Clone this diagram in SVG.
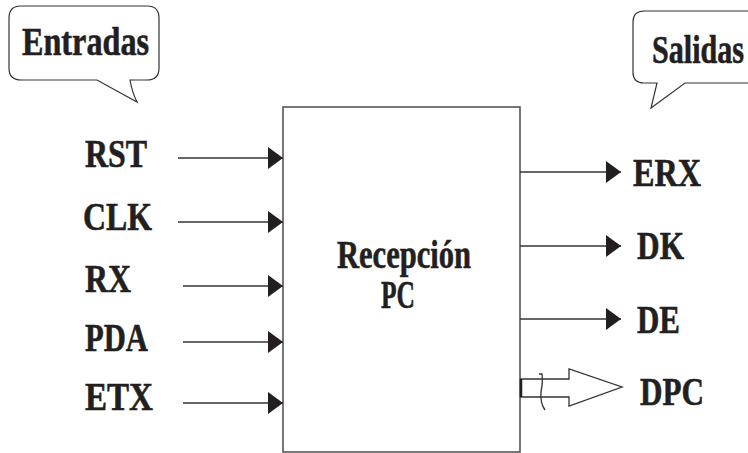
<svg xmlns="http://www.w3.org/2000/svg" width="748" height="453" viewBox="0 0 748 453">
<defs>
<style>
.lbl{font-weight:bold;font-size:40px;fill:#231f20;stroke:#231f20;stroke-width:0.6}
.bub{fill:#fff;stroke:#333;stroke-width:1.2}
.wire{stroke:#333;stroke-width:1.3;fill:none}
.box{fill:#fff;stroke:#555;stroke-width:1.6}
</style>
<marker id="ah" viewBox="0 0 15 22" refX="15" refY="11" markerWidth="15" markerHeight="22" markerUnits="userSpaceOnUse" orient="auto">
<path d="M0,0 L15,11 L0,22 Z" fill="#231f20"/>
</marker>
</defs>
<rect width="748" height="453" fill="#fff"/>

<g id="entradas" font-family="Liberation Serif, serif">
<path class="bub" d="M21,6 H147 Q159,6 159,18 V68 Q159,80 147,80 H130 Q132,92 137,102 L97,80 H21 Q9,80 9,68 V18 Q9,6 21,6 Z"/>
<text class="lbl" x="22" y="55" font-size="38" textLength="127" lengthAdjust="spacingAndGlyphs">Entradas</text>
</g>

<g id="salidas" font-family="Liberation Serif, serif">
<path class="bub" d="M760,11 H644 Q633,11 633,22 V72 Q633,83 644,83 H657 L651,108 L685,83 H760"/>
<text class="lbl" x="652" y="63" textLength="92" lengthAdjust="spacingAndGlyphs">Salidas</text>
</g>

<g id="recepcion" font-family="Liberation Serif, serif">
<rect class="box" x="283" y="107" width="237" height="345"/>
<text class="lbl" x="337" y="268" font-size="36" textLength="134" lengthAdjust="spacingAndGlyphs">Recepción</text>
<text class="lbl" x="381" y="308" font-size="36" textLength="34" lengthAdjust="spacingAndGlyphs">PC</text>
</g>

<g id="in-labels" font-family="Liberation Serif, serif">
<text class="lbl" x="85" y="167" textLength="62" lengthAdjust="spacingAndGlyphs">RST</text>
<text class="lbl" x="83" y="230" textLength="69" lengthAdjust="spacingAndGlyphs">CLK</text>
<text class="lbl" x="85" y="292" textLength="46" lengthAdjust="spacingAndGlyphs">RX</text>
<text class="lbl" x="85" y="351" textLength="63" lengthAdjust="spacingAndGlyphs">PDA</text>
<text class="lbl" x="85" y="410" textLength="68" lengthAdjust="spacingAndGlyphs">ETX</text>
</g>

<g id="out-labels" font-family="Liberation Serif, serif">
<text class="lbl" x="633" y="186" textLength="68" lengthAdjust="spacingAndGlyphs">ERX</text>
<text class="lbl" x="637" y="259" textLength="47" lengthAdjust="spacingAndGlyphs">DK</text>
<text class="lbl" x="637" y="333" textLength="43" lengthAdjust="spacingAndGlyphs">DE</text>
<text class="lbl" x="640" y="405" textLength="64" lengthAdjust="spacingAndGlyphs">DPC</text>
</g>

<g id="connectors">
<line class="wire" x1="178" y1="158" x2="283" y2="158" marker-end="url(#ah)"/>
<line class="wire" x1="178" y1="222" x2="283" y2="222" marker-end="url(#ah)"/>
<line class="wire" x1="183" y1="286" x2="283" y2="286" marker-end="url(#ah)"/>
<line class="wire" x1="183" y1="342" x2="283" y2="342" marker-end="url(#ah)"/>
<line class="wire" x1="183" y1="403" x2="283" y2="403" marker-end="url(#ah)"/>
<line class="wire" x1="520" y1="172" x2="621" y2="172" stroke="#555" marker-end="url(#ah)"/>
<line class="wire" x1="520" y1="246" x2="621" y2="246" marker-end="url(#ah)"/>
<line class="wire" x1="520" y1="319" x2="621" y2="319" stroke="#555" marker-end="url(#ah)"/>
<path class="wire" d="M520,379 H569 V369 L622,387 L569,406 V397 H520" stroke-width="1.2"/>
<line x1="521" y1="379" x2="521" y2="397" stroke="#231f20" stroke-width="2.5"/>
<path class="wire" d="M539,374 H542 Q543,382 541,392 Q540,403 545,410" stroke-width="1.1"/>
</g>
</svg>
